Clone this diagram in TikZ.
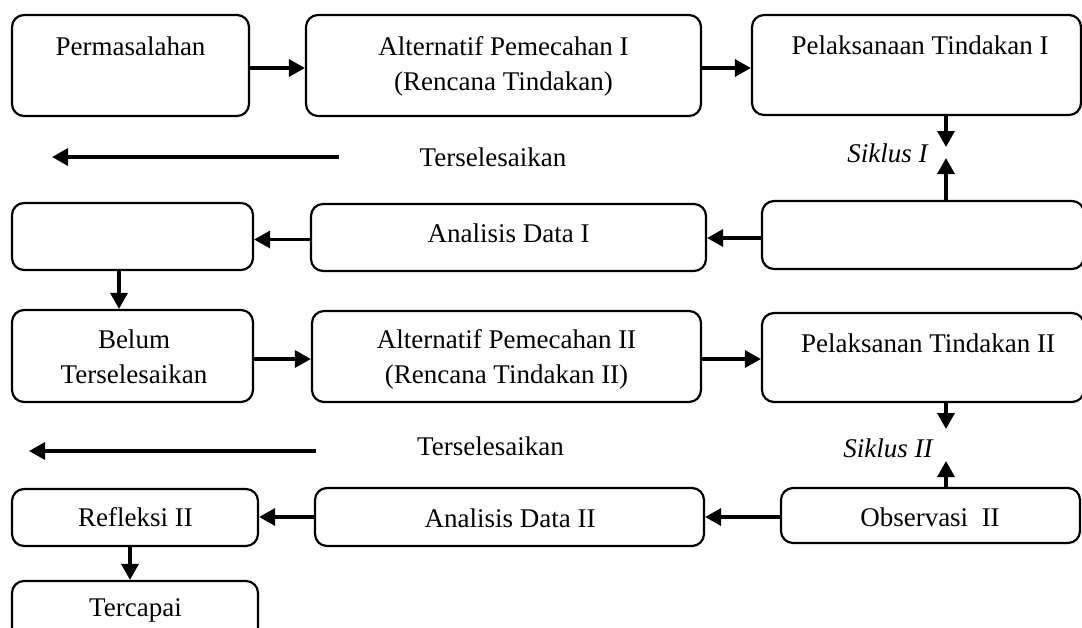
\documentclass[tikz,border=0pt]{standalone}
\usepackage{fontspec}
\setmainfont{Liberation Serif}
\usetikzlibrary{arrows.meta}

\begin{document}
\begin{tikzpicture}[x=0.5pt,y=-0.5pt,
box/.style={draw,line width=1.1pt,rounded corners=6pt,inner sep=0pt},
txt/.style={anchor=base,inner sep=0pt,align=center,font=\fontsize{13.5}{17.5}\selectfont},
arr/.style={-{Triangle[length=8pt,width=8.5pt]},line width=1.65pt}]
 \path[use as bounding box,clip] (0,0) rectangle (1082,627);
 % siklus I
 \node[box,minimum width=118.5pt,minimum height=50.5pt] (perm) at (130.5,65.5) {};
 \node[box,minimum width=197.5pt,minimum height=50.5pt] (altA) at (503.5,65.5) {};
 \node[box,minimum width=164.5pt,minimum height=50pt] (pelA) at (916.5,65) {};
 \node[box,minimum width=120.5pt,minimum height=33.5pt] (refA) at (132.5,236.5) {};
 \node[box,minimum width=197.5pt,minimum height=33.5pt] (anaA) at (508.5,237.5) {};
 \node[box,minimum width=161pt,minimum height=34pt] (obsA) at (923,235) {};
 % siklus II
 \node[box,minimum width=120.5pt,minimum height=46pt] (belum) at (132.5,356) {};
 \node[box,minimum width=194.5pt,minimum height=45.5pt] (altB) at (506.5,356.5) {};
 \node[box,minimum width=161pt,minimum height=44.5pt] (pelB) at (923,357.5) {};
 \node[box,minimum width=123pt,minimum height=28.5pt] (refB) at (135,517.5) {};
 \node[box,minimum width=194.5pt,minimum height=29pt] (anaB) at (509.5,517) {};
 \node[box,minimum width=149.5pt,minimum height=27.5pt] (obsB) at (930.5,515.5) {};
 \node[box,minimum width=123pt,minimum height=39pt] (tercapai) at (135,620) {};

 % texts (base = last line)
 \node[txt] (tPerm) at (130.5,55) {Permasalahan};
 \node[txt] (tAltA) at (503.5,90) {Alternatif Pemecahan I\\(Rencana Tindakan)};
 \node[txt] (tPelA) at (920,54) {Pelaksanaan Tindakan I};
 \node[txt] (tDoneA) at (493,166) {Terselesaikan};
 \node[txt,anchor=base east,font=\fontsize{13.5}{17.5}\selectfont\itshape] (tSikA) at (928,162) {Siklus I};
 \node[txt] (tAnaA) at (508.5,242) {Analisis Data I};
 \node[txt] (tBelum) at (134,383) {Belum\\Terselesaikan};
 \node[txt] (tAltB) at (506.5,383) {Alternatif Pemecahan II\\(Rencana Tindakan II)};
 \node[txt] (tPelB) at (928,352) {Pelaksanan Tindakan II};
 \node[txt] (tDoneB) at (490.5,455) {Terselesaikan};
 \node[txt,anchor=base east,font=\fontsize{13.5}{17.5}\selectfont\itshape] (tSikB) at (933,457) {Siklus II};
 \node[txt] (tRefB) at (135.5,526) {Refleksi II};
 \node[txt] (tAnaB) at (510,527) {Analisis Data II};
 \node[txt] (tObsB) at (930,526) {Observasi\ \ II};
 \node[txt] (tTerc) at (135.5,616) {Tercapai};

 % free ends
 \coordinate (skA1) at (946,147);
 \coordinate (skA2) at (946,158);
 \coordinate (skB1) at (946,429);
 \coordinate (skB2) at (946,461);
 \coordinate (doneA1) at (339,157);
 \coordinate (doneA2) at (52,157);
 \coordinate (doneB1) at (316,451);
 \coordinate (doneB2) at (29,451);

 % arrows
 \draw[arr] ([yshift=-1.25pt]perm.east) -- ([yshift=-1.25pt]perm.east -| altA.west);
 \draw[arr] ([yshift=-1.25pt]altA.east) -- ([yshift=-1.25pt]altA.east -| pelA.west);
 \draw[arr] (pelA.south -| skA1) -- (skA1);
 \draw[arr] (obsA.north -| skA2) -- (skA2);
 \draw[arr] (doneA1) -- (doneA2);
 \draw[arr] ([yshift=-1.5pt]obsA.west) -- ([yshift=-1.5pt]obsA.west -| anaA.east);
 \draw[arr] ([yshift=-1pt]anaA.west) -- ([yshift=-1pt]anaA.west -| refA.east);
 \draw[arr] ([xshift=-6.75pt]refA.south) -- ([xshift=-6.75pt]refA.south |- belum.north);
 \draw[arr] ([yshift=-1.5pt]belum.east) -- ([yshift=-1.5pt]belum.east -| altB.west);
 \draw[arr] ([yshift=-1.25pt]altB.east) -- ([yshift=-1.25pt]altB.east -| pelB.west);
 \draw[arr] (pelB.south -| skB1) -- (skB1);
 \draw[arr] (obsB.north -| skB2) -- (skB2);
 \draw[arr] (doneB1) -- (doneB2);
 \draw[arr] ([yshift=-0.75pt]obsB.west) -- ([yshift=-0.75pt]obsB.west -| anaB.east);
 \draw[arr] (anaB.west) -- (anaB.west -| refB.east);
 \draw[arr] ([xshift=-2.5pt]refB.south) -- ([xshift=-2.5pt]refB.south |- tercapai.north);
\end{tikzpicture}
\end{document}
